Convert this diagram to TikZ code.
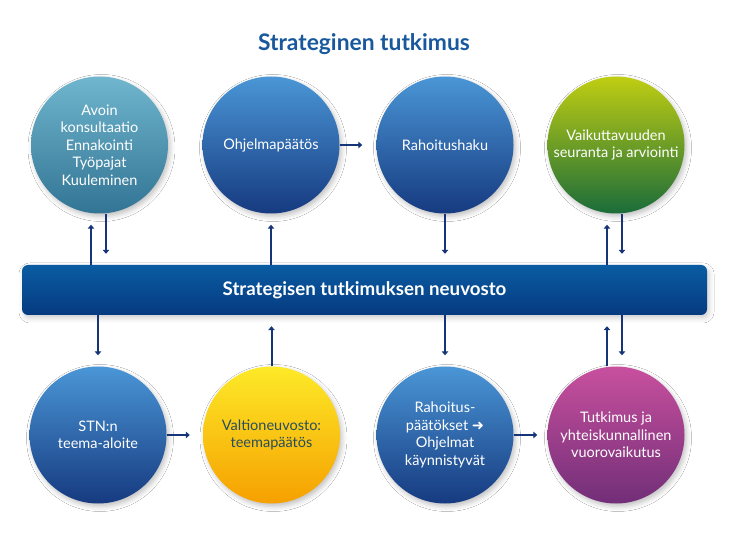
\documentclass[tikz,border=0pt]{standalone}
\usepackage{fontspec}
\setmainfont{Lato}
\newfontfamily\arrowfont{DejaVu Sans}
\usetikzlibrary{arrows.meta,shadows.blur}
\definecolor{titleblue}{RGB}{24,88,156}
\definecolor{flowblue}{RGB}{22,52,120}
\definecolor{tealtop}{RGB}{112,182,206}
\definecolor{tealbot}{RGB}{50,116,148}
\definecolor{bluetop}{RGB}{74,150,214}
\definecolor{bluebot}{RGB}{22,58,128}
\definecolor{greentop}{RGB}{192,206,18}
\definecolor{greenbot}{RGB}{26,108,58}
\definecolor{yellowtop}{RGB}{253,234,40}
\definecolor{yellowbot}{RGB}{246,160,0}
\definecolor{magtop}{RGB}{200,80,158}
\definecolor{magbot}{RGB}{114,46,120}
\definecolor{bartop}{RGB}{10,92,162}
\definecolor{barbot}{RGB}{6,58,128}
\definecolor{darktext}{RGB}{40,78,92}
\tikzset{
  stage/.style={circle,minimum size=137pt,inner sep=0pt,align=center,
    text=white,font=\fontsize{14.5}{17.5}\selectfont,
    blur shadow={shadow xshift=2pt,shadow yshift=-3pt,shadow blur radius=5pt,shadow opacity=25}},
  tealstage/.style={stage,top color=tealtop,bottom color=tealbot},
  bluestage/.style={stage,top color=bluetop,bottom color=bluebot},
  greenstage/.style={stage,top color=greentop,bottom color=greenbot},
  yellowstage/.style={stage,top color=yellowtop,bottom color=yellowbot,text=darktext},
  magstage/.style={stage,top color=magtop,bottom color=magbot},
  councilbar/.style={rounded corners=6pt,minimum width=685pt,minimum height=50pt,
    top color=bartop,bottom color=barbot,text=white,
    font=\fontsize{18.7}{22}\selectfont\bfseries,
    blur shadow={shadow xshift=2pt,shadow yshift=-3pt,shadow blur radius=5pt,shadow opacity=20}},
  flow/.style={-{Triangle[width=6.5pt,length=4pt]},line width=2pt,draw=flowblue,shorten >=11pt},
  every picture/.style={x=1pt,y=1pt}
}

\begin{document}
\begin{tikzpicture}
  \useasboundingbox[fill=white] (0,0) rectangle (730,557);
  \node[text=titleblue,font=\fontsize{22.8}{26}\selectfont\bfseries] (title) at (364,513) {Strateginen tutkimus};
  \node[councilbar] (bar) at (364.5,267) {Strategisen tutkimuksen neuvosto};
  % upper row
  \node[tealstage] (c1) at (99.5,412) {Avoin\\konsultaatio\\Ennakointi\\Työpajat\\Kuuleminen};
  \node[bluestage] (c2) at (271,412) {Ohjelmapäätös};
  \node[bluestage] (c3) at (445,412) {Rahoitushaku};
  \node[greenstage] (c4) at (616,412) {Vaikuttavuuden\\seuranta ja arviointi};
  % lower row
  \node[bluestage] (d1) at (98,122) {STN:n\\teema-aloite};
  \node[yellowstage] (d2) at (271.5,122) {Valtioneuvosto:\\teemapäätös};
  \node[bluestage] (d3) at (445,122) {Rahoitus-\\päätökset {\arrowfont\bfseries ➜}\\Ohjelmat\\käynnistyvät};
  \node[magstage] (d4) at (616,122) {Tutkimus ja\\yhteiskunnallinen\\vuorovaikutus};
  \coordinate (c1up) at ([xshift=-8.5pt]c1.south);
  \coordinate (c1dn) at ([xshift=6.5pt]c1.south);
  \coordinate (c4up) at ([xshift=-9pt]c4.south);
  \coordinate (c4dn) at ([xshift=6pt]c4.south);
  \coordinate (d4up) at ([xshift=-9pt]d4.north);
  \coordinate (d4dn) at ([xshift=6pt]d4.north);
  \draw[flow] (c1up |- bar.north) -- (c1up);
  \draw[flow] (c1dn) -- (c1dn |- bar.north);
  \draw[flow] (c2 |- bar.north) -- (c2.south);
  \draw[flow] (c3.south) -- (c3 |- bar.north);
  \draw[flow] (c4up |- bar.north) -- (c4up);
  \draw[flow] (c4dn) -- (c4dn |- bar.north);
  \draw[flow,shorten >=14pt] (c2) -- (c3);
  \draw[flow] (d1 |- bar.south) -- (d1.north);
  \draw[flow] (d2.north) -- (d2 |- bar.south);
  \draw[flow] (d3 |- bar.south) -- (d3.north);
  \draw[flow] (d4up) -- (d4up |- bar.south);
  \draw[flow] (d4dn |- bar.south) -- (d4dn);
  \draw[flow,shorten >=13pt] (d1) -- (d2);
  \draw[flow,shorten >=10pt] (d3) -- (d4);
\end{tikzpicture}
\end{document}
